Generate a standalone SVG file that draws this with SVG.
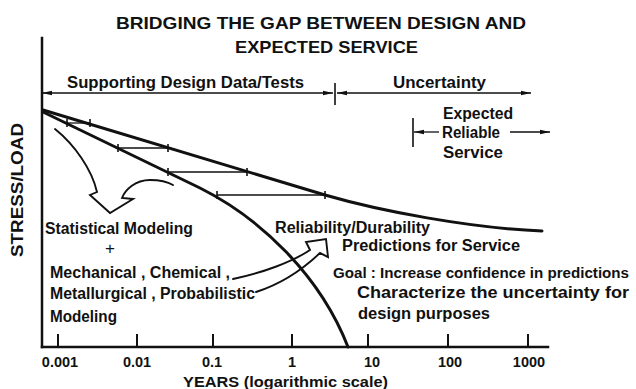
<svg xmlns="http://www.w3.org/2000/svg" width="636" height="389" viewBox="0 0 636 389">
  <style>
    .lbl { font-family: "Liberation Sans", Arial, sans-serif; font-weight: bold; font-size: 16px; fill: #111; }
    .ttl { font-family: "Liberation Sans", Arial, sans-serif; font-weight: bold; font-size: 16.5px; fill: #111; }
    .axis { stroke: #111; stroke-width: 2.5; fill: none; stroke-linecap: square; }
    .curve { stroke: #111; stroke-width: 3; fill: none; stroke-linecap: round; }
    .thin { stroke: #111; stroke-width: 1.3; fill: none; }
    .tick { stroke: #111; stroke-width: 1.6; fill: none; }
    .outline { stroke: #111; stroke-width: 1.9; fill: none; stroke-linejoin: miter; stroke-linecap: round; }
  </style>
  <defs>
    <marker id="head" viewBox="0 0 10 6" refX="10" refY="3" markerWidth="10" markerHeight="6" markerUnits="userSpaceOnUse" orient="auto-start-reverse">
      <path d="M0,0.8 L10,3 L0,5.2 z" fill="#111"/>
    </marker>
  </defs>

  <rect width="636" height="389" fill="#fff"/>

  <!-- title -->
  <g id="title">
    <text class="ttl" x="116" y="29" textLength="410" lengthAdjust="spacingAndGlyphs">BRIDGING THE GAP BETWEEN DESIGN AND</text>
    <text class="ttl" x="235" y="53" textLength="183" lengthAdjust="spacingAndGlyphs">EXPECTED SERVICE</text>
  </g>

  <!-- axes -->
  <g id="axes">
    <line class="axis" x1="42" y1="38" x2="42" y2="347"/>
    <line class="axis" x1="42" y1="347" x2="548" y2="347"/>
    <g class="tick" style="stroke-width:2">
      <line x1="58" y1="334" x2="58" y2="347"/>
      <line x1="137" y1="334" x2="137" y2="347"/>
      <line x1="213" y1="334" x2="213" y2="347"/>
      <line x1="292" y1="334" x2="292" y2="347"/>
      <line x1="368" y1="334" x2="368" y2="347"/>
      <line x1="448" y1="334" x2="448" y2="347"/>
      <line x1="528" y1="334" x2="528" y2="347"/>
    </g>
    <g class="lbl" style="font-size:14.5px" text-anchor="middle">
      <text x="60" y="367">0.001</text>
      <text x="137" y="367">0.01</text>
      <text x="212" y="367">0.1</text>
      <text x="292" y="367">1</text>
      <text x="372" y="367">10</text>
      <text x="450" y="367">100</text>
      <text x="529" y="367">1000</text>
    </g>
    <text class="lbl" style="font-size:14.5px" x="183" y="387" textLength="205" lengthAdjust="spacingAndGlyphs">YEARS (logarithmic scale)</text>
    <text class="lbl" transform="translate(23,190) rotate(-90)" text-anchor="middle" textLength="134" lengthAdjust="spacingAndGlyphs">STRESS/LOAD</text>
  </g>

  <!-- range bar above the plot -->
  <g id="range-bar">
    <text class="lbl" x="67" y="88" textLength="237" lengthAdjust="spacingAndGlyphs">Supporting Design Data/Tests</text>
    <text class="lbl" x="393" y="88" textLength="93" lengthAdjust="spacingAndGlyphs">Uncertainty</text>
  </g>

  <!-- expected reliable service label -->
  <g id="expected-service">
    <text class="lbl" x="443" y="119" textLength="70" lengthAdjust="spacingAndGlyphs">Expected</text>
    <text class="lbl" x="442" y="138" textLength="58" lengthAdjust="spacingAndGlyphs">Reliable</text>
    <text class="lbl" x="443" y="158" textLength="60" lengthAdjust="spacingAndGlyphs">Service</text>
  </g>

  <!-- design / service curves -->
  <g id="curves">
    <path class="curve" d="M43,110 L325,195 C380,211 470,228 542,231"/>
    <path class="curve" d="M43,112 L200,188 C260,218 320,275 348,347"/>
  </g>

  <!-- text nodes -->
  <g id="statistical">
    <text class="lbl" x="45" y="234" textLength="148" lengthAdjust="spacingAndGlyphs">Statistical Modeling</text>
    <text class="lbl" x="110" y="254" text-anchor="middle" style="font-size:17px;font-weight:normal">+</text>
  </g>
  <g id="mechanical">
    <text class="lbl" x="50" y="278" textLength="180" lengthAdjust="spacingAndGlyphs">Mechanical , Chemical ,</text>
    <text class="lbl" x="50" y="299" textLength="205" lengthAdjust="spacingAndGlyphs">Metallurgical , Probabilistic</text>
    <text class="lbl" x="50" y="322" textLength="67" lengthAdjust="spacingAndGlyphs">Modeling</text>
  </g>
  <g id="reliability">
    <text class="lbl" x="275" y="233" textLength="155" lengthAdjust="spacingAndGlyphs">Reliability/Durability</text>
    <text class="lbl" x="342" y="251" textLength="178" lengthAdjust="spacingAndGlyphs">Predictions for Service</text>
  </g>
  <g id="goal">
    <text class="lbl" x="333" y="278" style="font-size:14.5px" textLength="296" lengthAdjust="spacingAndGlyphs">Goal : Increase confidence in predictions</text>
    <text class="lbl" x="357" y="298" textLength="272" lengthAdjust="spacingAndGlyphs">Characterize the uncertainty for</text>
    <text class="lbl" x="358" y="319" textLength="132" lengthAdjust="spacingAndGlyphs">design purposes</text>
  </g>

  <!-- connectors -->
  <g id="connectors">
    <!-- range bar arrows -->
    <line class="thin" x1="42" y1="93" x2="333" y2="93" marker-start="url(#head)" marker-end="url(#head)" style="stroke-width:1.6"/>
    <line class="thin" x1="337" y1="93" x2="531" y2="93" marker-start="url(#head)" marker-end="url(#head)" style="stroke-width:1.6"/>
    <line class="tick" x1="335" y1="83" x2="335" y2="105"/>
    <!-- expected service bracket -->
    <line class="tick" x1="413" y1="118" x2="413" y2="147"/>
    <line class="thin" x1="414" y1="132" x2="439" y2="132" marker-start="url(#head)"/>
    <line class="thin" x1="510" y1="132" x2="550" y2="132" marker-end="url(#head)"/>

    <!-- horizontal gaps between curves -->
    <line class="thin" x1="67" y1="123" x2="90" y2="123"/>
    <line class="thin" x1="118" y1="148" x2="168" y2="148"/>
    <line class="thin" x1="168" y1="172" x2="247" y2="172"/>
    <line class="thin" x1="217" y1="195" x2="325" y2="195"/>
    <g class="tick">
      <line x1="90" y1="119" x2="90" y2="127"/>
      <line x1="168" y1="144" x2="168" y2="152"/>
      <line x1="247" y1="168" x2="247" y2="176"/>
      <line x1="325" y1="191" x2="325" y2="199"/>
      <line x1="67" y1="119" x2="67" y2="127"/>
      <line x1="118" y1="144" x2="118" y2="152"/>
      <line x1="168" y1="168" x2="168" y2="176"/>
      <line x1="217" y1="191" x2="217" y2="199"/>
    </g>

    <!-- merging hollow arrow -->
    <path class="outline" d="M55,129 C75,145 92,170 97,192 L90,195 L110,213 L133,199 L122,198 C125,190 135,180 150,180 C160,180 168,182 173,185"/>
    <!-- hollow arrow toward predictions -->
    <path class="outline" d="M233,279 C262,273 292,262 310,250 L306,242 L326,239 L328,257 L320,253 C300,272 278,285 256,292"/>
  </g>
</svg>
